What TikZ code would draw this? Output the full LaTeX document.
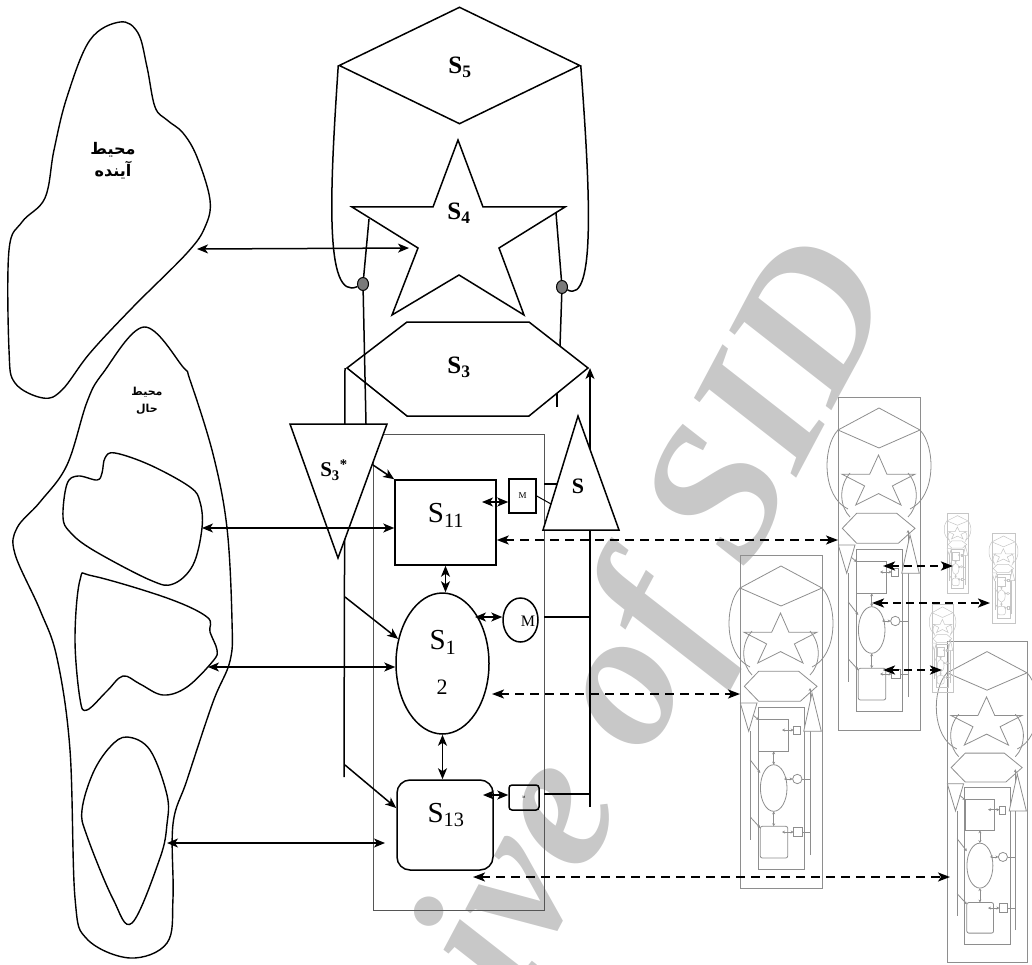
\documentclass[tikz,border=0pt]{standalone}
\usepackage{fontspec}
\setmainfont{Liberation Serif}
\newfontfamily\arabicfont[Script=Arabic]{DejaVu Sans}
\TeXXeTstate=1
\usetikzlibrary{arrows.meta,shapes.geometric,positioning,calc}
\definecolor{vsmgris}{HTML}{555555}
\definecolor{vsmpoint}{HTML}{7A7A7A}
\definecolor{vsmmini}{HTML}{8E8E8E}
\definecolor{vsmpale}{HTML}{C6C6C6}
\definecolor{vsmfiligrane}{HTML}{C8C8C8}

\tikzset{
  % petite copie du systeme viable (repere : coin haut gauche, 82 x 333)
  mini vsm/.pic={
    \draw (0,0) rectangle (82,333);
    \draw (0,33) -- (41,11) -- (82,33) -- (41,51) -- cycle;
    \draw (0,33) .. controls (-16,50) and (-16,100) .. (10,112);
    \draw (82,33) .. controls (98,50) and (98,100) .. (72,112);
    \draw (12,76) .. controls (0,90) and (2,110) .. (12,120);
    \draw (70,76) .. controls (82,90) and (80,110) .. (70,120);
    \draw (40.5,58) -- (48.9,77.2) -- (77,77.2) -- (54.4,88.9) -- (63,108) -- (40.6,96.6)
      -- (17.7,108) -- (26.6,88.9) -- (4,77.2) -- (31.7,77.2) -- cycle;
    \draw (4.3,131.3) -- (18.7,116.3) -- (58.7,116.3) -- (77,131.3) -- (60.3,146.3) -- (18.7,146.3) -- cycle;
    \draw (18,152.3) rectangle (64.7,314.7);
    \draw (10.3,176) -- (10.3,285);
    \draw[->] (70,300) -- (70,133);
    \draw[fill=white] (0.3,148) -- (17,148) -- (8.7,176.3) -- cycle;
    \draw[fill=white] (72,138) -- (81.3,176.3) -- (63.7,176.3) -- cycle;
    \draw (18.7,164.7) rectangle (48.7,196.3);
    \draw (53.7,171.3) rectangle (60.3,179.7);
    \draw (33.7,233) ellipse [x radius=13.3, y radius=23.3];
    \draw (57.3,224) circle [radius=4.7];
    \draw[rounded corners=2pt] (20.3,271.3) rectangle (47.7,303);
    \draw (53.7,272.3) rectangle (62,281.3);
    \draw[<->] (33.7,196.3) -- (33.7,209.7);
    \draw[<->] (33.7,256.3) -- (33.7,271.3);
    \draw[<->] (42,175) -- (53.7,175);
    \draw[<->] (44,224) -- (52.6,224);
    \draw[<->] (42,277) -- (53.7,277);
    \draw[->] (13,160) -- (18.7,165);
    \draw[->] (10.3,205) -- (20.3,218);
    \draw[->] (10.3,262) -- (20.3,273);
    \draw (62,224) -- (70,224) (62,277) -- (70,277);
  }
}

\begin{document}
\begin{tikzpicture}[x=1pt, y=-1pt, line width=1.5pt,
  >={Stealth[length=11pt,width=9pt,inset=3pt]},
  every node/.style={inner sep=0pt},
  grand/.style={font=\fontsize{29}{29}\selectfont},
  gras/.style={font=\fontsize{25}{25}\selectfont\bfseries},
  vsmdot/.style={ellipse, draw, fill=vsmpoint, line width=1pt, minimum width=11pt, minimum height=13pt},
  mbox/.style={draw, line width=1.5pt},
  dashlink/.style={<->, line width=1.8pt, dash pattern=on 9pt off 6pt, >={Stealth[length=12pt,width=9pt,inset=3pt]}},
  minidash/.style={<->, line width=2.2pt, dash pattern=on 8pt off 5pt, >={Stealth[length=12pt,width=9pt,inset=3pt]}},
  blob/.style={line width=1.4pt},
  minipic/.style={vsmmini, line width=0.8pt, >={Stealth[length=3pt,width=3pt]}},
  palepic/.style={vsmpale, line width=0.5pt, >={Stealth[length=2pt,width=2pt]}}]
  \useasboundingbox (0,0) rectangle (1032,965);
  \clip (0,0) rectangle (1032,965);

  % filigrane
  \node[vsmfiligrane, rotate=62, font=\fontsize{195}{195}\selectfont\bfseries\itshape] (filigrane) at (572,798) {Archive of SID};

  % environnement futur
  \draw[blob] plot[smooth cycle, tension=0.6] coordinates {(120,22) (138,33) (147,67) (155,107) (167,120) (183,133) (197,157) (210,200) (205,227) (187,253) (133,307) (90,353) (62,390) (43,398) (15,383) (9,350) (9,250) (22,222) (45,198) (54,150) (67,97) (90,40)};
  \node[font=\arabicfont\bfseries\fontsize{16}{22}\selectfont, align=center] (futur-t) at (113,161) {\beginR محیط\endR\\\beginR آینده\endR};
  \coordinate (futur-e) at (197,249);

  % environnement present
  \draw[blob] plot[smooth cycle, tension=0.6] coordinates {(144,327) (183,367) (190,380) (213,454) (227,528) (232,621) (230,661) (213,702) (187,780) (173,824) (173,898) (167,943) (130,958) (87,939) (75,898) (70,750) (57,658) (40,610) (15,554) (17,528) (40,502) (67,465) (87,402) (103,373)};
  \draw[blob] plot[smooth cycle, tension=0.6] coordinates {(63,517) (67,484) (78,476) (97,480) (102,473) (105,458) (115,453) (150,465) (190,487) (200,502) (202,528) (193,565) (173,584) (150,580) (93,550) (70,532)};
  \draw[blob] plot[smooth cycle, tension=0.6] coordinates {(80,580) (93,576) (167,598) (207,617) (210,632) (217,650) (213,661) (187,687) (163,695) (140,684) (123,676) (107,691) (87,710) (80,699) (75,639)};
  \draw[blob] plot[smooth cycle, tension=0.6] coordinates {(127,737) (150,750) (167,795) (167,824) (160,858) (132,923) (113,899) (87,836) (82,810) (93,773) (110,747)};
  \node[font=\arabicfont\bfseries\fontsize{11}{17}\selectfont, align=center] (present-t) at (147,401) {\beginR محیط\endR\\\beginR حال\endR};
  \coordinate (env-1) at (202,528);
  \coordinate (env-2) at (208,667);
  \coordinate (env-3) at (167,843);
  \coordinate (env-3b) at (385,843);

  % s5
  \node[diamond, draw, minimum width=241pt, minimum height=117pt, aspect=2] (s5) at (459.5,65.5) {};
  \node[gras] (s5-t) at (460,67) {S\textsubscript{5}};

  % s4
  \coordinate (st-t) at (458,140);  \coordinate (st-ur) at (483,207);
  \coordinate (st-r) at (565,207);  \coordinate (st-ri) at (499,248);
  \coordinate (st-br) at (524,315); \coordinate (st-bi) at (459,275);
  \coordinate (st-bl) at (392,315); \coordinate (st-li) at (418,248);
  \coordinate (st-l) at (352,207);  \coordinate (st-ul) at (433,207);
  \draw (st-t) -- (st-ur) -- (st-r) -- (st-ri) -- (st-br) -- (st-bi) -- (st-bl) -- (st-li) -- (st-l) -- (st-ul) -- cycle;
  \node[gras] (s4-t) at (459,213) {S\textsubscript{4}};

  % s3
  \coordinate (hx-l) at (347,368);  \coordinate (hx-hg) at (407,322);
  \coordinate (hx-hd) at (529,322); \coordinate (hx-r) at (588,368);
  \coordinate (hx-bd) at (529,416); \coordinate (hx-bg) at (407,416);
  \draw (hx-l) -- (hx-hg) -- (hx-hd) -- (hx-r) -- (hx-bd) -- (hx-bg) -- cycle;
  \node[gras] (s3-t) at (459,367) {S\textsubscript{3}};

  % boucles s5 et points
  \node[vsmdot] (dot-g) at (363,284) {};
  \node[vsmdot] (dot-d) at (562,287) {};
  \draw (s5.west) .. controls (330,190) and (324,302) .. (dot-g);
  \draw (s5.east) .. controls (590,190) and (596,305) .. (dot-d);
  \coordinate (lg-h) at (369,219); \coordinate (lg-b) at (366,424);
  \coordinate (ld-h) at (556,213); \coordinate (ld-b) at (560,346);
  \draw (lg-h) -- (dot-g) -- (lg-b);
  \draw (ld-h) -- (dot-d) -- (ld-b);
  \draw (557,393) -- (557,407);

  % cadre des operations
  \node[draw=vsmgris, line width=0.9pt, minimum width=171pt, minimum height=476pt] (cadre) at (458.5,672) {};

  % canaux verticaux
  \coordinate (bus-g-h) at (345,368); \coordinate (bus-g-b) at (344,777);
  \draw (bus-g-h) -- (bus-g-b);
  \coordinate (bus-d-b) at (590,807);
  \draw[->] (bus-d-b) -- (bus-d-b |- hx-r);
  \coordinate (bus-0) at (557,484);
  \coordinate (bus-1) at (590,617);
  \coordinate (bus-2) at (590,794);
  \draw (bus-0 -| cadre.east) -- (bus-0);
  \draw (bus-1 -| cadre.east) -- (bus-1);
  \draw (bus-2 -| cadre.east) -- (bus-2);

  % s3* et s
  \draw[fill=white] (290,424) -- (387,424) -- (338,558) -- cycle;
  \node[font=\fontsize{21}{21}\selectfont\bfseries] (s3e-t) at (334,470) {S\textsubscript{3}\textsuperscript{*}};
  \draw[fill=white] (578,416) -- (619,530) -- (543,530) -- cycle;
  \node[font=\fontsize{22}{22}\selectfont\bfseries] (s-t) at (578,486) {S};

  % unites operationnelles
  \node[draw, minimum width=101pt, minimum height=85pt] (s11) at (445.5,522.5) {};
  \node[grand] (s11-t) at (446,515) {S\textsubscript{11}};
  \node[ellipse, draw, minimum width=93pt, minimum height=141pt] (s12) at (442.5,663.5) {};
  \node[grand] (s12-t) at (443,642) {S\textsubscript{1}};
  \node[font=\fontsize{22}{22}\selectfont] (s12-n) at (442,687) {2};
  \node[draw, rounded corners=13pt, minimum width=96pt, minimum height=90pt] (s13) at (445,825) {};
  \node[grand] (s13-t) at (446,815) {S\textsubscript{13}};

  % gestion locale
  \node[mbox, minimum width=27pt, minimum height=34pt, font=\fontsize{9}{9}\selectfont] (m11) at (522.5,496) {M};
  \node[mbox, ellipse, minimum width=35pt, minimum height=44pt] (m12) at (520.5,620) {};
  \node[font=\fontsize{16}{16}\selectfont] (m12-t) at (528,621) {M};
  \node[mbox, rounded corners=3pt, minimum width=30pt, minimum height=25pt, font=\fontsize{3.5}{3.5}\selectfont] (m13) at (524,797.5) {M};
  \coordinate (m11-a) at (482,502);
  \coordinate (m12-a) at (475,617);
  \coordinate (m13-a) at (483,795);
  \draw[<->] (m11-a) -- (m11-a -| m11.west);
  \draw[<->] (m12-a) -- (m12-a -| m12.west);
  \draw[<->] (m13-a) -- (m13-a -| m13.west);
  \draw[line width=1pt] (m11.east) -- (551,504);

  % liaisons entre unites
  \draw[<->] (s11.south) -- (s11.south |- s12.north);
  \draw[<->] (s12.south) -- (s12.south |- s13.north);
  \coordinate (s3e-a) at (373,465);
  \coordinate (bus-g-1) at (345,597);
  \coordinate (bus-g-2) at (345,765);
  \draw[->] (s3e-a) -- (s11.north west);
  \draw[->] (bus-g-1) -- (s12.151);
  \draw[->] (bus-g-2) -- ([yshift=17pt]s13.west);

  % echanges avec l'environnement
  \draw[<->] (env-1) -- (env-1 -| s11.west);
  \draw[<->] (env-2) -- (env-2 -| s12.west);
  \draw[<->] (env-3) -- (env-3b);
  \draw[<->, shorten >=9pt] (futur-e) -- (st-li);

  % systemes de niveau inferieur
  \pic[minipic] (mA) at (838,397) {mini vsm};
  \pic[minipic] (mB) at (740,555) {mini vsm};
  \pic[minipic, xscale=0.976, yscale=0.964] (mC) at (947,641) {mini vsm};
  \pic[palepic, xscale=0.256, yscale=0.24] (mD) at (947,513) {mini vsm};
  \pic[palepic, xscale=0.28, yscale=0.27] (mE) at (992,533) {mini vsm};
  \pic[palepic, xscale=0.256, yscale=0.264] (mF) at (932,604) {mini vsm};
  \coordinate (mA-in) at (838,540);
  \coordinate (mB-in) at (740,694);
  \coordinate (mC-in) at (950,877);
  \coordinate (s12-d) at (492,694);
  \coordinate (s13-d) at (473,877);
  \draw[dashlink] (mA-in -| s11.east) -- (mA-in);
  \draw[dashlink] (s12-d) -- (mB-in);
  \draw[dashlink] (s13-d) -- (mC-in);
  \coordinate (mA-11) at (883,566); \coordinate (mD-in) at (953,566);
  \coordinate (mA-12) at (872,603); \coordinate (mE-in) at (990,603);
  \coordinate (mA-13) at (883,670); \coordinate (mF-in) at (942,670);
  \draw[minidash] (mA-11) -- (mD-in);
  \draw[minidash] (mA-12) -- (mE-in);
  \draw[minidash] (mA-13) -- (mF-in);
\end{tikzpicture}
\end{document}
